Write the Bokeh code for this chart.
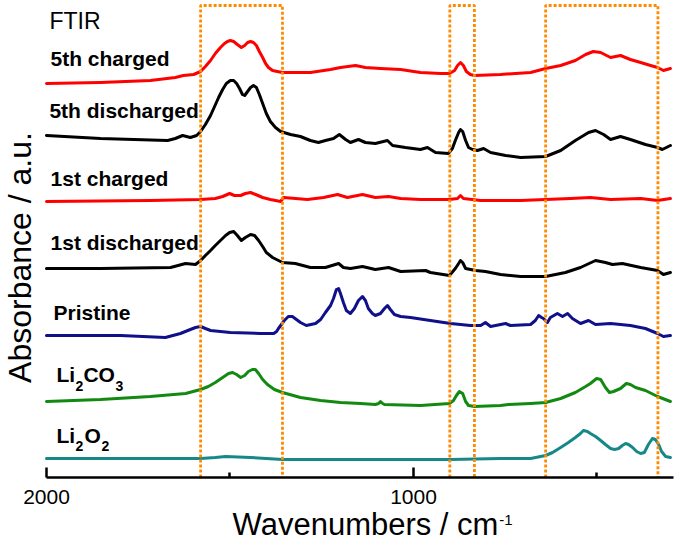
from bokeh.plotting import figure
from bokeh.models import Range1d, FixedTicker, Label, LinearAxis
from bokeh.embed import file_html
from bokeh.resources import INLINE

# ---- data: wavenumber (cm-1) and stacked absorbance (a.u.) ----
wn_5c = [2000, 1853, 1717, 1649, 1627, 1599, 1580, 1567, 1553, 1540, 1526, 1515, 1507, 1499, 1490, 1480, 1469, 1460,
         1452, 1444, 1436, 1428, 1420, 1411, 1403, 1395, 1384, 1371, 1357, 1281, 1226, 1199, 1158, 1131, 1090, 1035,
         981, 926, 902, 888, 880, 872, 864, 856, 845, 834, 763, 681, 640, 599, 559, 531, 510, 490, 463, 436, 409,
         381, 354, 335, 319, 300]
ab_5c = [394, 395, 397, 400, 402, 403, 406, 411, 417, 424, 430, 434, 436, 437, 436, 433, 430, 432,
         435, 436, 435, 432, 426, 420, 414, 410, 407, 406, 405, 405, 408, 410, 412, 410, 409, 408,
         405, 404, 404, 407, 412, 415, 412, 406, 403, 402, 403, 405, 409, 412, 417, 423, 426, 425, 420, 422, 418,
         415, 412, 410, 407, 409]

wn_5d = [2000, 1853, 1670, 1649, 1629, 1608, 1591, 1580, 1567, 1553, 1542, 1531, 1520, 1510, 1499, 1490, 1482, 1474,
         1466, 1460, 1452, 1444, 1436, 1428, 1420, 1411, 1401, 1390, 1376, 1362, 1335, 1308, 1281, 1259, 1240, 1218,
         1202, 1185, 1172, 1150, 1131, 1104, 1071, 1057, 1022, 981, 962, 940, 905, 894, 886, 877, 872, 866, 858,
         850, 839, 826, 809, 790, 749, 708, 640, 599, 559, 523, 504, 482, 463, 436, 409, 368, 335, 322, 300]
ab_5d = [342, 339, 337, 339, 342, 340, 342, 346, 353, 362, 371, 380, 388, 394, 397, 397, 394, 389,
         383, 382, 386, 390, 392, 390, 383, 374, 364, 356, 350, 346, 343, 341, 337, 335, 337, 339,
         343, 338, 335, 338, 335, 334, 337, 332, 330, 328, 330, 325, 324, 329, 337, 345, 348, 346, 337,
         330, 328, 327, 329, 325, 322, 320, 321, 327, 337, 345, 347, 343, 338, 341, 338, 333, 330, 328, 332]

wn_1c = [2000, 1717, 1580, 1540, 1520, 1501, 1488, 1471, 1458, 1444, 1430, 1411, 1390, 1362, 1354, 1289, 1245,
         1207, 1180, 1139, 1104, 1068, 1035, 981, 902, 880, 872, 864, 817, 708, 640, 572, 518, 463, 381, 335, 300]
ab_1c = [276, 277, 278, 279, 281, 284, 282, 282, 284, 285, 283, 280, 278, 276, 280, 278, 280,
         283, 280, 283, 280, 281, 279, 278, 278, 279, 282, 279, 277, 277, 278, 279, 280, 278, 279, 277, 279]

wn_1d = [2000, 1853, 1662, 1621, 1594, 1580, 1567, 1553, 1540, 1526, 1512, 1501, 1490, 1480, 1469, 1458, 1444,
         1433, 1422, 1411, 1401, 1384, 1357, 1322, 1281, 1240, 1204, 1191, 1172, 1139, 1104, 1068, 1035, 967, 954,
         902, 886, 877, 872, 866, 858, 831, 804, 763, 708, 640, 586, 545, 504, 477, 458, 431, 381, 335, 319, 300]
ab_1d = [209, 209, 210, 214, 213, 217, 222, 227, 232, 237, 242, 245, 246, 242, 237, 240, 243,
         242, 237, 231, 225, 220, 215, 214, 210, 210, 214, 210, 209, 211, 208, 210, 206, 207, 205,
         202, 209, 214, 217, 215, 209, 207, 206, 203, 201, 201, 205, 210, 217, 215, 213, 214, 210, 207, 203, 205]

wn_pr = [2000, 1798, 1676, 1635, 1608, 1594, 1580, 1567, 1553, 1499, 1417, 1381, 1373, 1368, 1360, 1352, 1341,
         1330, 1319, 1308, 1292, 1267, 1253, 1240, 1226, 1218, 1210, 1204, 1199, 1191, 1183, 1172, 1161, 1150,
         1139, 1131, 1123, 1112, 1104, 1090, 1079, 1071, 1063, 1052, 1035, 1008, 954, 899, 845, 817, 804, 790,
         749, 736, 681, 668, 659, 651, 646, 635, 627, 608, 594, 580, 567, 545, 523, 504, 463, 409, 368, 335, 319, 300]
ab_pr = [142, 142, 140, 144, 148, 150, 151, 149, 147, 145, 144, 144, 146, 149, 153, 157, 161,
         161, 158, 155, 152, 154, 158, 165, 172, 179, 188, 189, 184, 175, 167, 164, 169, 177,
         181, 177, 169, 164, 162, 164, 169, 172, 168, 163, 161, 160, 157, 154, 152, 152, 155, 151,
         154, 152, 153, 157, 162, 160, 159, 155, 160, 164, 161, 164, 159, 154, 157, 153, 154, 152, 149, 144, 141, 142]

wn_co3 = [2000, 1853, 1717, 1621, 1580, 1559, 1540, 1520, 1504, 1493, 1482, 1471, 1460, 1450, 1439, 1431, 1422,
          1411, 1398, 1379, 1357, 1308, 1253, 1199, 1144, 1104, 1095, 1090, 1084, 1079, 981, 902, 891, 883, 875,
          866, 858, 850, 834, 763, 741, 681, 640, 599, 559, 531, 518, 501, 490, 477, 466, 455, 436, 420, 409, 395,
          368, 335, 300]
ab_co3 = [76, 78, 81, 84, 88, 91, 95, 100, 104, 105, 103, 100, 102, 106, 108, 108, 104,
          98, 93, 88, 85, 80, 77, 75, 74, 73, 74, 76, 74, 73, 72, 74, 77, 82, 86,
          84, 76, 72, 71, 72, 73, 74, 75, 79, 85, 91, 94, 99, 98, 90, 85, 86, 89, 94, 93, 90,
          87, 81, 76]

wn_o2 = [2000, 1717, 1580, 1540, 1512, 1444, 1357, 1144, 899, 763, 681, 640, 621, 599, 578, 559, 545, 537, 526,
         518, 504, 490, 477, 463, 452, 441, 431, 422, 414, 403, 392, 381, 371, 360, 349, 341, 332, 324, 313, 300]
ab_o2 = [19, 19, 19, 20, 21, 20, 18, 18, 18, 19, 19, 22, 25, 30, 35, 40, 44, 47, 46,
         44, 41, 37, 33, 29, 28, 29, 32, 34, 33, 30, 26, 24, 25, 33, 39, 38, 33, 26, 21, 20]

series = [
    (wn_5c, ab_5c, "#ff0000"),
    (wn_5d, ab_5d, "#000000"),
    (wn_1c, ab_1c, "#ff0000"),
    (wn_1d, ab_1d, "#000000"),
    (wn_pr, ab_pr, "#10108a"),
    (wn_co3, ab_co3, "#128a12"),
    (wn_o2, ab_o2, "#168888"),
]

# highlighted wavenumber ranges (left edge, right edge)
box_ranges = [(1580, 1357), (901, 834), (640, 334)]

major_ticks = [2000, 1000]
minor_ticks = [1500, 500]

FONT = "Liberation Sans"

# ---- figure ----
p = figure(width=675, height=541, output_backend="svg", toolbar_location=None,
           x_range=Range1d(2125.3, 286.1), y_range=Range1d(-64, 477),
           x_axis_location=None, y_axis_location=None, min_border=0)
p.outline_line_color = None
p.xgrid.visible = False
p.ygrid.visible = False
p.background_fill_color = "white"
p.border_fill_color = "white"

for wn, ab, col in series:
    p.line(wn, ab, line_color=col, line_width=3, line_join="round", line_cap="round")

box_top = 472
for left, right in box_ranges:
    p.line([left, left, right, right], [0, box_top, box_top, 0], line_color="#ff8a00",
           line_width=2.8, line_dash="3 2")

xa = LinearAxis(fixed_location=0, bounds=(292, 2000))
xa.ticker = FixedTicker(ticks=major_ticks, minor_ticks=minor_ticks)
xa.axis_line_width = 2.5
xa.axis_line_color = "black"
xa.major_tick_line_width = 2.5
xa.minor_tick_line_width = 2.5
xa.major_tick_in = 10
xa.major_tick_out = 0
xa.minor_tick_in = 5
xa.minor_tick_out = 0
xa.major_label_text_font = FONT
xa.major_label_text_font_size = "21px"
xa.major_label_text_color = "black"
xa.major_label_standoff = 12
p.add_layout(xa, "below")


def lab(x, y, text, size, style="normal", xo=0, **kw):
    p.add_layout(Label(x=x, y=y, text=text, x_offset=xo, text_font=FONT, text_font_size=size,
                       text_font_style=style, text_color="black", text_baseline="alphabetic", **kw))


lab(1992, 457, "FTIR", "23px")
lab(1989, 419, "5th charged", "21px", "bold")
lab(1992, 367, "5th discharged", "21px", "bold")
lab(1989, 299, "1st charged", "21px", "bold")
lab(1989, 235, "1st discharged", "21px", "bold")
lab(1981, 165, "Pristine", "21px", "bold")

lab(1973, 103, "Li", "21px", "bold")
lab(1973, 92, "2", "14px", "bold", xo=19)
lab(1973, 103, "CO", "21px", "bold", xo=27)
lab(1973, 92, "3", "14px", "bold", xo=59)

lab(1973, 42, "Li", "21px", "bold")
lab(1973, 32, "2", "14px", "bold", xo=19)
lab(1973, 42, "O", "21px", "bold", xo=28)
lab(1973, 32, "2", "14px", "bold", xo=45)

# axis titles
lab(1493, -47, "Wavenumbers / cm", "31px")
lab(766, -42, "-1", "15px")
lab(2072, 220, "Absorbance / a.u.", "32px", angle=1.5708, text_align="center")

open("out.html", "w").write(file_html(p, INLINE))
